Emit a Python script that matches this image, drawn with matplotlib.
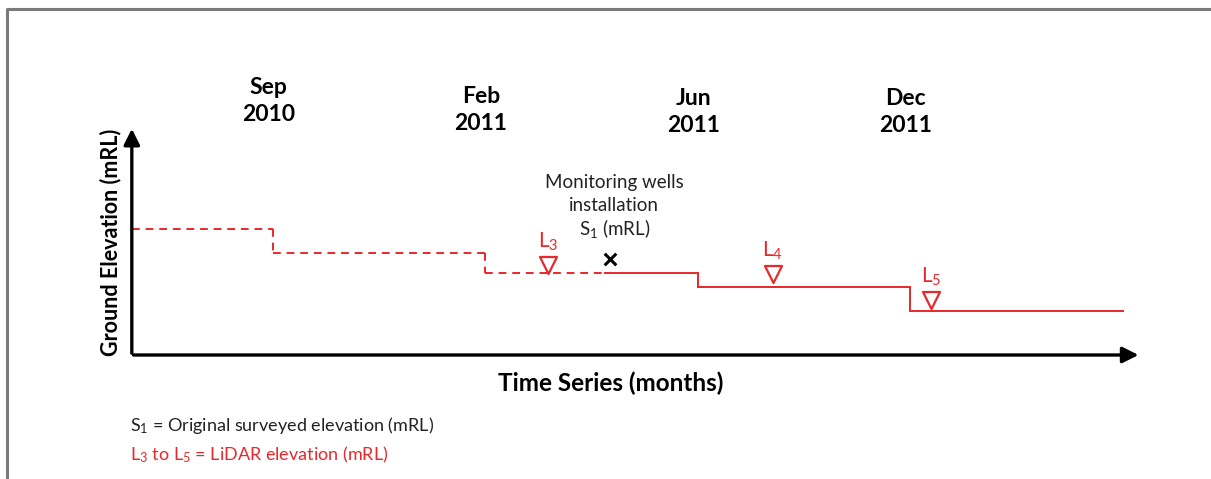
import numpy as np
import matplotlib.pyplot as plt
from matplotlib.lines import Line2D

plt.rcParams['font.family'] = ['Lato', 'DejaVu Sans']
plt.rcParams['mathtext.fontset'] = 'custom'
plt.rcParams['mathtext.rm'] = 'Lato'
plt.rcParams['mathtext.it'] = 'Lato:italic'
plt.rcParams['mathtext.bf'] = 'Lato:bold'

RED = '#e8282c'

# survey events (equally spaced on the schematic time axis)
events = ['Sep\n2010', 'Feb\n2011', 'Jun\n2011', 'Dec\n2011']
event_x = [0, 1, 2, 3]

# ground elevation steps (schematic units)
step_edges = [-0.665, 0, 1, 1.564, 2, 3, 4.004]
step_levels = [126, 102, 82, 82, 68, 44]
wells_x = 1.564  # monitoring wells installed, line goes solid after this

# LiDAR observations
lidar_names = ['L$_3$', 'L$_4$', 'L$_5$']
lidar_x = [1.295, 2.355, 3.099]
lidar_y = [90, 81, 55]

# original survey S1
s1_x = 1.587
s1_y = 96
s1_note = ['Monitoring wells', 'installation', 'S$_1$ (mRL)']

fig = plt.figure(figsize=(12.11, 4.79), dpi=100)
ax = fig.add_axes([0, 0, 1, 1])
ax.set_xlim(-273 / 212.3, (1211 - 273) / 212.3)
ax.set_ylim(-124, 355)
ax.axis('off')

# frame around the figure
fig.add_artist(Line2D([7 / 1211, 7 / 1211, 1.0], [0.0, 1 - 9 / 479, 1 - 9 / 479],
                      transform=fig.transFigure, color='#7a7a7a', lw=2.2))

# steps
for i in range(len(step_levels)):
    x0, x1 = step_edges[i], step_edges[i + 1]
    ls = '--' if x1 <= wells_x else '-'
    kw = dict(color=RED, lw=1.4, ls=ls)
    if ls == '--':
        kw['dashes'] = (4, 3)
    ax.plot([x0, x1], [step_levels[i], step_levels[i]], **kw)
    if i + 1 < len(step_levels) and step_levels[i + 1] != step_levels[i]:
        ax.plot([x1, x1], [step_levels[i], step_levels[i + 1]], **kw)

# axes arrows
ax.annotate('', xy=(4.09, 0), xytext=(-0.67, 0),
            arrowprops=dict(arrowstyle='-|>', lw=2.4, color='black', mutation_scale=24))
ax.annotate('', xy=(-0.665, 229), xytext=(-0.665, -1),
            arrowprops=dict(arrowstyle='-|>', lw=2.4, color='black', mutation_scale=24))

# LiDAR markers and labels
ax.scatter(lidar_x, lidar_y, marker='v', s=150, facecolors='white', edgecolors=RED,
           linewidths=1.6, zorder=5)
for name, lx, ly in zip(lidar_names, lidar_x, lidar_y):
    ax.text(lx, ly + 12, name, color=RED, fontsize=15, ha='center', va='bottom')

# S1 marker and note (one text per line)
ax.scatter([s1_x], [s1_y], marker='x', s=70, color='black', linewidths=2.2, zorder=5)
for k, line in enumerate(s1_note):
    ax.text(s1_x + 0.02, 173 - 23 * k, line, ha='center', va='center', fontsize=13.5,
            color='#222222')

# event labels
event_y = [254, 245, 243, 243]
for lab, ex, ey in zip(events, event_x, event_y):
    ax.text(ex - 0.02, ey, lab, ha='center', va='center', fontsize=16.5, fontweight='bold',
            linespacing=1.35)

ax.text(1.59, -28, 'Time Series (months)', ha='center', va='center', fontsize=17.5,
        fontweight='bold')
ax.text(-0.765, 113, 'Ground Elevation (mRL)', ha='center', va='center', rotation=90,
        fontsize=15.5, fontweight='bold')

ax.text(-0.672, -70, 'S$_1$ = Original surveyed elevation (mRL)', ha='left', va='center',
        fontsize=13, color='#222222')
ax.text(-0.672, -100, 'L$_3$ to L$_5$ = LiDAR elevation (mRL)', ha='left', va='center',
        fontsize=13, color=RED)

fig.savefig('out.png', dpi=100)
